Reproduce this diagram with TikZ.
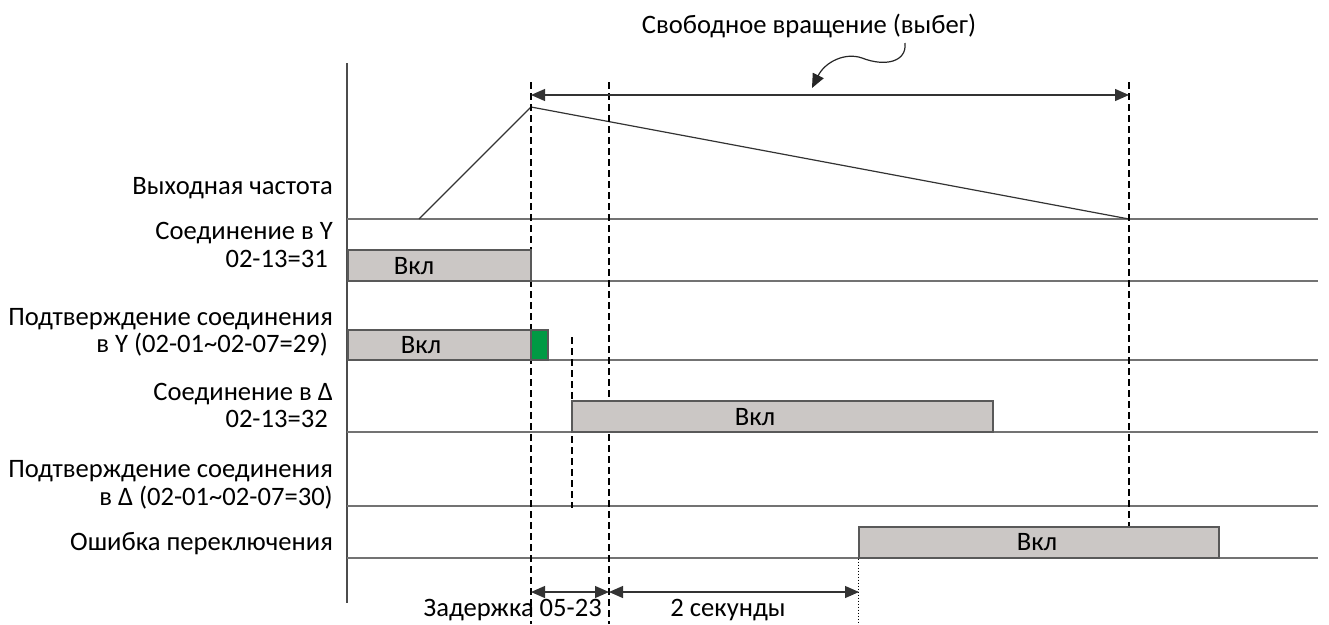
\documentclass[tikz,border=0pt]{standalone}
\usepackage{fontspec}
\setmainfont{Carlito}
\usetikzlibrary{arrows.meta,positioning,calc}

\definecolor{boxgray}{RGB}{203,199,197}
\definecolor{okgreen}{RGB}{0,154,68}

\begin{document}
\begin{tikzpicture}[
    x=1pt, y=-1pt,
    lbl/.style={font=\fontsize{26.6}{28}\selectfont, inner sep=0pt, anchor=base east},
    txt/.style={font=\fontsize{26.6}{28}\selectfont, inner sep=0pt},
    track/.style={draw=black!55, line width=1.6pt},
    onbox/.style={rectangle, draw=black!65, line width=1.2pt, fill=boxgray, inner sep=0pt},
    guide/.style={line width=1.2pt, dash pattern=on 7pt off 4pt},
    dimarrow/.style={{Triangle[length=14pt,width=12pt]}-{Triangle[length=14pt,width=12pt]}, line width=1.2pt, black!80},
]
\useasboundingbox (0,0) rectangle (1329,624);

% --- Axis and signal tracks ---
\draw[line width=1.4pt, black!70] (347,63) -- (347,603);
\foreach \y in {219,281,360,432,506,558}
  \draw[track] (347,\y) -- (1318,\y);

% --- Output frequency ---
\coordinate (start) at (419,219);
\coordinate (peak) at (531,107);
\coordinate (stop) at (1129,219);
\draw[line width=1.2pt, black!80] (start) -- (peak) -- (stop);

% --- Guide lines ---
\coordinate (g1top) at (531,82);
\coordinate (g1bot) at (531,624);
\coordinate (g2top) at (609,82);
\coordinate (g2bot) at (609,624);
\coordinate (g3top) at (572,337);
\coordinate (g3bot) at (572,508);
\coordinate (g4top) at (1129,82);
\draw[guide] (g1top) -- (g1bot);
\draw[guide] (g2top) -- (g2bot);
\draw[guide] (g3top) -- (g3bot);

% --- On boxes ---
\node[onbox, minimum width=183pt, minimum height=31pt] (ybox) at (439.5,265.5) {};
\node[txt] (yon) at (414,266) {Вкл};
\node[onbox, minimum width=183pt, minimum height=30pt] (ycbox) at (439.5,345) {};
\node[txt] (ycon) at (421,345) {Вкл};
\node[onbox, fill=okgreen, minimum width=17pt, minimum height=30pt] (ack) at (539.5,345) {};
\node[onbox, minimum width=421pt, minimum height=31pt] (dbox) at (782.5,416.5) {};
\node[txt] (don) at (755,417) {Вкл};
\node[onbox, minimum width=360pt, minimum height=31pt] (errbox) at (1039,542.5) {};
\node[txt] (erron) at (1037,542) {Вкл};

\draw[guide, line width=1.8pt] (g4top) -- (errbox.north -| g4top);
\draw[dotted, line width=1pt] (errbox.south west) -- ++(0,66);

% --- Coasting ---
\node[txt, anchor=base] (coast) at (809,33) {Свободное вращение (выбег)};
\draw[dimarrow] (g1top |- 0,95) -- (g4top |- 0,95);
\draw[-{Triangle[length=14pt,width=12pt]}, line width=1.2pt, black!85]
  (905,43) .. controls (907,62) and (885,67) .. (862,58)
  .. controls (845,52) and (825,62) .. (812,88);

% --- Timing ---
\coordinate (t1) at (531,592);
\coordinate (t2) at (609,592);
\coordinate (t3) at (859,592);
\draw[dimarrow] (t1) -- (t2);
\draw[dimarrow] (t2) -- (t3);
\node[txt, anchor=base east] (dly) at (602,616) {Задержка 05-23};
\node[txt, anchor=base] (twosec) at (728,616) {2 секунды};

% --- Signal names ---
\node[lbl] (freq) at (333,194) {Выходная частота};
\node[lbl] (ya) at (333,239) {Соединение в Y};
\node[lbl] (yb) at (328,267) {02-13=31};
\node[lbl] (yca) at (333,325) {Подтверждение соединения};
\node[lbl] (ycb) at (328,352) {в Y (02-01\textasciitilde02-07=29)};
\node[lbl] (da) at (333,400) {Соединение в Δ};
\node[lbl] (db) at (328,427) {02-13=32};
\node[lbl] (dca) at (333,477) {Подтверждение соединения};
\node[lbl] (dcb) at (333,505) {в Δ (02-01\textasciitilde02-07=30)};
\node[lbl] (err) at (333,550) {Ошибка переключения};

\end{tikzpicture}
\end{document}
